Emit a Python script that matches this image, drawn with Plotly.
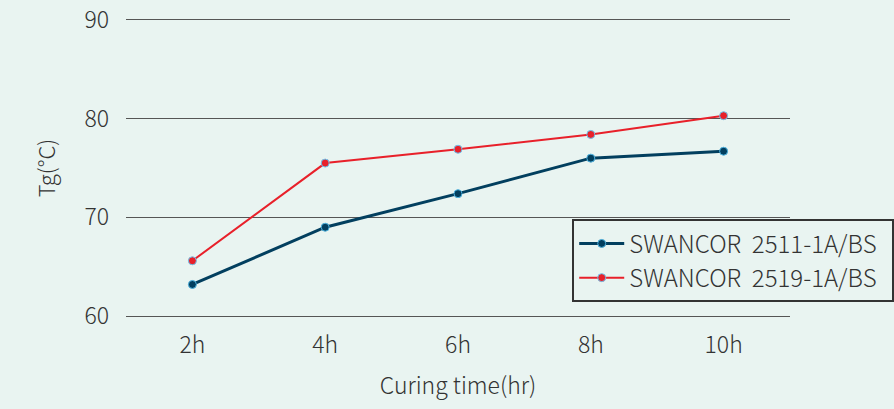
import plotly.graph_objects as go

categories = ["2h", "4h", "6h", "8h", "10h"]
series_2511 = [63.2, 69.0, 72.4, 76.0, 76.7]
series_2519 = [65.6, 75.5, 76.9, 78.4, 80.3]
names = ["SWANCOR\u00a0 2511-1A/BS\u00a0\u00a0", "SWANCOR\u00a0 2519-1A/BS\u00a0\u00a0"]
y_ticks = [60, 70, 80, 90]

bg = "#e9f4f1"
font_family = "Noto Sans CJK SC, Noto Sans, sans-serif"

fig = go.Figure()
fig.add_trace(go.Scatter(
    x=categories, y=series_2511, name=names[0], mode="lines+markers",
    line=dict(color="#023f5f", width=3),
    marker=dict(size=8, color="#023f5f", line=dict(color="#4fb3e0", width=1)),
))
fig.add_trace(go.Scatter(
    x=categories, y=series_2519, name=names[1], mode="lines+markers",
    line=dict(color="#e8202a", width=2),
    marker=dict(size=8, color="#e8202a", line=dict(color="#6cc4ee", width=1)),
))

fig.update_layout(
    width=894, height=409,
    paper_bgcolor=bg, plot_bgcolor=bg,
    margin=dict(l=126, r=104, t=17, b=90, autoexpand=False),
    font=dict(family=font_family, color="#333333", size=23, weight=300),
    showlegend=True,
    legend=dict(
        x=0.672, y=0.33, xanchor="left", yanchor="top",
        bgcolor=bg, bordercolor="#333333", borderwidth=2,
        font=dict(size=24, color="#333333", weight=300),
        tracegroupgap=2, itemwidth=45,
    ),
    xaxis=dict(
        type="category", range=[-0.5, 4.5],
        showgrid=False, showline=False, zeroline=False,
        tickfont=dict(size=23), ticks="", ticklabelstandoff=10,
        title=dict(text="Curing time(hr)", font=dict(size=23), standoff=18),
    ),
    yaxis=dict(
        range=[59.7, 90.3], tickvals=y_ticks, ticktext=[str(v) for v in y_ticks],
        showgrid=True, gridcolor="#555555", gridwidth=1,
        showline=False, zeroline=False, ticks="",
        tickfont=dict(size=23), ticklabelstandoff=16,
        title=dict(text="Tg(°C)", font=dict(size=22), standoff=22),
    ),
)

fig.write_html(
    "out.html",
    config={"displayModeBar": False},
    post_script="document.body.style.margin='0';document.body.style.background='%s';" % bg,
)
